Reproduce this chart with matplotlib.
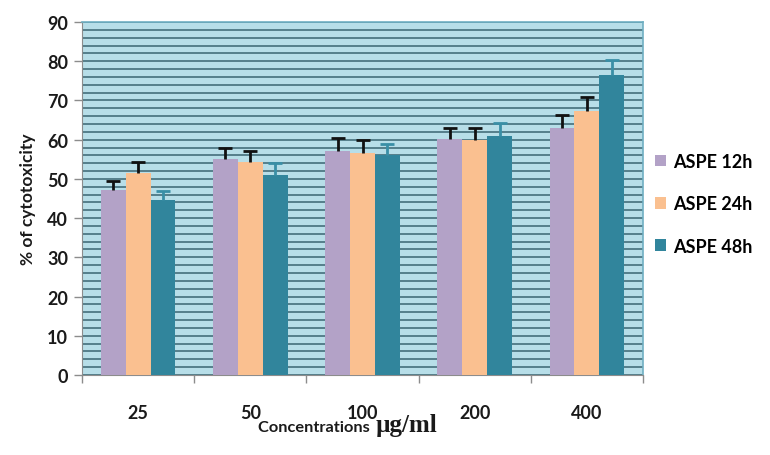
import matplotlib
matplotlib.use("Agg")
import matplotlib.pyplot as plt
import numpy as np

categories = ["25", "50", "100", "200", "400"]
series_names = ["ASPE 12h", "ASPE 24h", "ASPE 48h"]
vals_12h = [47.2, 55.1, 57.2, 60.1, 63.0]
vals_24h = [51.5, 54.3, 56.6, 59.8, 67.4]
vals_48h = [44.5, 51.1, 56.0, 61.0, 76.6]
err_12h = [2.3, 2.8, 3.3, 3.0, 3.4]
err_24h = [2.8, 2.8, 3.2, 3.1, 3.6]
err_48h = [2.4, 2.9, 3.0, 3.2, 3.8]

colors = ["#B3A2C7", "#FAC090", "#31859C"]
err_colors = ["#111111", "#111111", "#3A8FA6"]

fig = plt.figure(figsize=(7.7, 4.56), dpi=100)
ax = fig.add_axes([82/770, 1-376/456, (643-82)/770, (376-23)/456])
ax.set_facecolor("#B7DEE8")

x = np.arange(len(categories))
w = 0.222
allv = [vals_12h, vals_24h, vals_48h]
alle = [err_12h, err_24h, err_48h]
for i, (v, e) in enumerate(zip(allv, alle)):
    pos = x + (i - 1) * w
    ax.bar(pos, v, width=w, color=colors[i], label=series_names[i], zorder=3)
    eb = ax.errorbar(pos, v, yerr=[np.zeros(len(v)), e], fmt="none",
                     ecolor=err_colors[i], elinewidth=2, capsize=5, capthick=2, zorder=4)
    caps = eb[1]
    if len(caps) >= 2:
        caps[0].set_visible(False)

ax.set_xlim(-0.5, len(categories) - 0.5)
ax.set_ylim(0, 90)
ax.set_yticks(np.arange(0, 91, 10))
ax.set_yticks(np.arange(0, 91, 2), minor=True)
ax.yaxis.grid(True, which="both", color="#557F8B", linewidth=1.4, zorder=1)
ax.set_axisbelow(True)

ax.set_xticks(np.arange(-0.5, len(categories), 1.0))
ax.set_xticklabels([])
ax.set_xticks(x, minor=True)
ax.set_xticklabels(categories, minor=True)
ax.tick_params(axis="x", which="major", length=6, color="#8C8C8C", width=1)
ax.tick_params(axis="x", which="minor", length=0, pad=21)
ax.tick_params(axis="y", which="major", length=6, color="#8C8C8C", width=1, pad=4)
ax.tick_params(axis="y", which="minor", length=0)

for lbl in ax.get_xticklabels(minor=True) + ax.get_yticklabels():
    lbl.set_fontfamily("Lato")
    lbl.set_fontweight("bold")
    lbl.set_fontsize(13)
    lbl.set_color("#1A1A1A")

for s in ["top", "right"]:
    ax.spines[s].set_color("#6FAFC2")
    ax.spines[s].set_linewidth(1.2)
ax.spines["left"].set_color("#8C8C8C")
ax.spines["bottom"].set_color("#8C8C8C")

ax.set_ylabel("% of cytotoxicity", fontfamily="Lato", fontweight="bold", fontsize=12.5,
              color="#1A1A1A", labelpad=8)

fig.text(374/770, 1-432/456, "Concentrations ", ha="right", va="baseline",
         fontfamily="Lato", fontweight="bold", fontsize=11.8, color="#1A1A1A")
fig.text(376/770, 1-432/456, "\u00b5g/ml", ha="left", va="baseline",
         fontfamily="Liberation Serif", fontweight="bold", fontsize=18, color="#1A1A1A")

leg = fig.legend(loc="upper left", bbox_to_anchor=(655/770, 1-154/456), frameon=False,
                 handlelength=0.6, handleheight=0.6, handletextpad=0.4, labelspacing=1.4,
                 borderaxespad=0, borderpad=0,
                 prop={"family": "Lato", "weight": "bold", "size": 13})

fig.savefig("out.png", dpi=100)
